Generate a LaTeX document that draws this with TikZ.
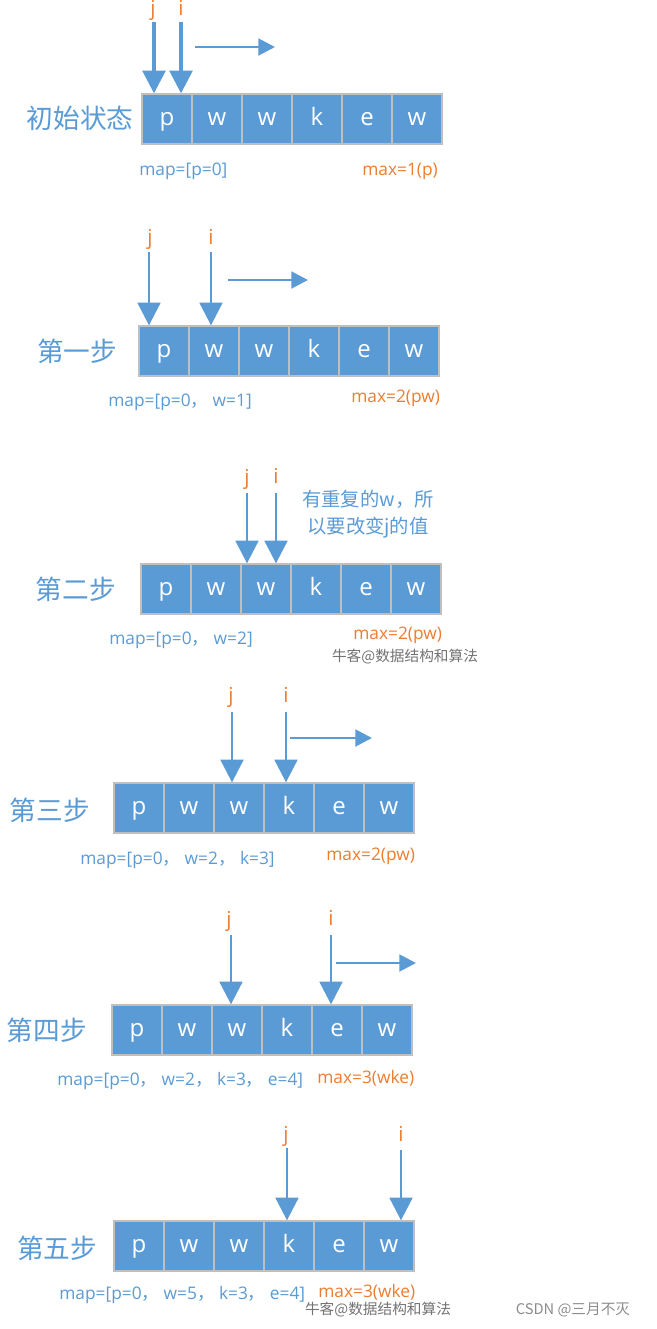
\documentclass[tikz,border=0pt]{standalone}
\usepackage{fontspec}
\setmainfont{Open Sans}
\newfontfamily\cjk{Noto Sans CJK SC}
\usetikzlibrary{arrows.meta}
\usetikzlibrary{positioning}
\definecolor{mblue}{HTML}{5B9BD5}
\definecolor{morange}{HTML}{ED7D31}
\definecolor{mgray}{HTML}{BFBFBF}
\tikzset{cell/.style = {draw = mgray, fill = mblue, line width = 1pt, minimum size = 37.5pt, inner sep = 0,
    text = white, text height = 10pt, text depth = 0pt, font = \fontsize{18}{18}\selectfont}}
\tikzset{ptr/.style = {mblue, line width = 2.2pt, -{Triangle[width = 17pt, length = 17pt]}}}
\tikzset{mov/.style = {mblue, line width = 2.2pt, -{Triangle[width = 12.5pt, length = 12.5pt]}}}
\tikzset{steplbl/.style = {mblue, font = \cjk\fontsize{20}{20}\selectfont}}
\tikzset{idx/.style = {morange, inner sep = 0, font = \fontsize{15.5}{15.5}\selectfont}}
\tikzset{maptxt/.style = {mblue, anchor = west, inner sep = 0, font = \fontsize{13}{13}\selectfont}}
\tikzset{maxtxt/.style = {morange, anchor = west, inner sep = 0, font = \fontsize{13}{13}\selectfont}}
\tikzset{wm/.style = {black!55, inner sep = 0, font = \cjk\fontsize{11}{11}\selectfont}}
\newcommand{\cm}{{\cjk ，}\hspace{3.5pt}}
\newcommand{\cellrow}[3]{%
  \foreach \ch [count = \k] in {p, w, w, k, e, w}
    \node [cell] (#1c\k) at ({#2 + 25 + (\k - 1) * 50}, #3) {\ch};}

\begin{document}
\begin{tikzpicture}[x = 0.75pt, y = -0.75pt]
    \useasboundingbox [fill = white] (0, 0) rectangle (657, 1329);

    % initial state
    \cellrow{r0}{142}{119}
    \node [steplbl] (s0) at (80, 118) {初始状态};
    \node [idx, anchor = north] (jl0) at (153, 0) {j};
    \node [idx, anchor = north] (il0) at (181, 0) {i};
    \coordinate (j0) at (154, 22);
    \coordinate (i0) at (181, 22);
    \draw [ptr, line width = 2.7pt] (j0) -- (j0 |- r0c1.north);
    \draw [ptr, line width = 2.7pt] (i0) -- (i0 |- r0c1.north);
    \coordinate (m0a) at (195, 47);
    \coordinate (m0b) at (275, 47);
    \draw [mov] (m0a) -- (m0b);
    \node [maptxt] (map0) at (139, 171) {map=[p=0]};
    \node [maxtxt] (max0) at (362, 171) {max=1(p)};

    % step 1
    \cellrow{r1}{139}{351}
    \node [steplbl] (s1) at (77, 351) {第一步};
    \node [idx] (jl1) at (150, 239) {j};
    \node [idx] (il1) at (211, 237) {i};
    \coordinate (j1) at (149, 252);
    \coordinate (i1) at (211, 252);
    \draw [ptr] (j1) -- (j1 |- r1c1.north);
    \draw [ptr] (i1) -- (i1 |- r1c2.north);
    \coordinate (m1a) at (228, 280);
    \coordinate (m1b) at (308, 280);
    \draw [mov] (m1a) -- (m1b);
    \node [maptxt] (map1) at (108, 402) {map=[p=0\cm w=1]};
    \node [maxtxt] (max1) at (351, 398) {max=2(pw)};

    % step 2
    \cellrow{r2}{141}{589}
    \node [steplbl] (s2) at (76, 589) {第二步};
    \node [idx] (jl2) at (247, 479) {j};
    \node [idx] (il2) at (276, 476) {i};
    \coordinate (j2) at (247, 493);
    \coordinate (i2) at (276, 493);
    \draw [ptr] (j2) -- (j2 |- r2c3.north);
    \draw [ptr] (i2) -- (i2 |- r2c3.north);
    \node [mblue, align = center, font = \cjk\fontsize{14.5}{20}\selectfont] (note2) at (368, 514)
        {有重复的w，所\\以要改变j的值};
    \node [maptxt] (map2) at (109, 640) {map=[p=0\cm w=2]};
    \node [maxtxt] (max2) at (353, 635) {max=2(pw)};
    \node [wm] (wm2) at (405, 657) {牛客@数据结构和算法};

    % step 3
    \cellrow{r3}{114}{808}
    \node [steplbl] (s3) at (50, 810) {第三步};
    \node [idx] (jl3) at (231, 697) {j};
    \node [idx] (il3) at (286, 695) {i};
    \coordinate (j3) at (232, 712);
    \coordinate (i3) at (286, 712);
    \draw [ptr] (j3) -- (j3 |- r3c3.north);
    \draw [ptr] (i3) -- (i3 |- r3c4.north);
    \coordinate (m3a) at (290, 738);
    \coordinate (m3b) at (372, 738);
    \draw [mov] (m3a) -- (m3b);
    \node [maptxt] (map3) at (80, 860) {map=[p=0\cm w=2\cm k=3]};
    \node [maxtxt] (max3) at (326, 856) {max=2(pw)};

    % step 4
    \cellrow{r4}{112}{1030}
    \node [steplbl] (s4) at (47, 1030) {第四步};
    \node [idx] (jl4) at (229, 921) {j};
    \node [idx] (il4) at (331, 918) {i};
    \coordinate (j4) at (231, 935);
    \coordinate (i4) at (331, 935);
    \draw [ptr] (j4) -- (j4 |- r4c3.north);
    \draw [ptr] (i4) -- (i4 |- r4c5.north);
    \coordinate (m4a) at (336, 963);
    \coordinate (m4b) at (416, 963);
    \draw [mov] (m4a) -- (m4b);
    \node [maptxt] (map4) at (57, 1081) {map=[p=0\cm w=2\cm k=3\cm e=4]};
    \node [maxtxt] (max4) at (317, 1078) {max=3(wke)};

    % step 5
    \cellrow{r5}{114}{1246}
    \node [steplbl] (s5) at (57, 1248) {第五步};
    \node [idx] (jl5) at (286, 1136) {j};
    \node [idx] (il5) at (401, 1134) {i};
    \coordinate (j5) at (287, 1148);
    \coordinate (i5) at (401, 1150);
    \draw [ptr] (j5) -- (j5 |- r5c4.north);
    \draw [ptr] (i5) -- (i5 |- r5c6.north);
    \node [maptxt] (map5) at (59, 1295) {map=[p=0\cm w=5\cm k=3\cm e=4]};
    \node [maxtxt] (max5) at (318, 1292) {max=3(wke)};
    \node [wm] (wm5a) at (378, 1310) {牛客@数据结构和算法};
    \node [wm, black!45] (wm5b) at (573, 1310) {CSDN @三月不灭};
  \end{tikzpicture}
\end{document}
